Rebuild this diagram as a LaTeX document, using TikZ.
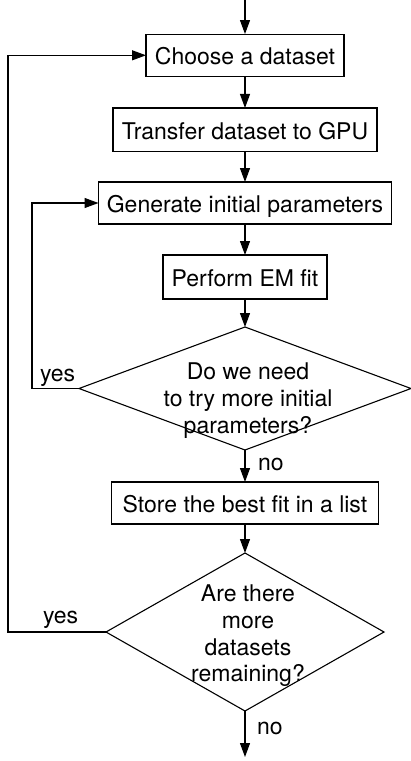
\documentclass[tikz,border=0pt]{standalone}
\usepackage{fontspec}
\setmainfont{TeX Gyre Heros}
\usetikzlibrary{arrows.meta,shapes.geometric}
\begin{document}
\begin{tikzpicture}[x=1pt,y=-1pt,
  every node/.style={font=\fontsize{23pt}{26.7pt}\selectfont, inner sep=0pt, outer sep=0pt},
  proc/.style={draw, line width=1.1pt, rectangle, text height=19pt, text depth=0pt, minimum height=42.5pt},
  decis/.style={draw, line width=1.1pt, diamond, inner sep=0pt},
  conn/.style={line width=1.1pt, -{Triangle[length=14pt,width=10pt]}},
  plain/.style={line width=1.1pt},
  lbl/.style={anchor=base west}
]
\useasboundingbox (0,0) rectangle (411,761);

\coordinate (start) at (245,0);
\coordinate (finish) at (245,757);
\coordinate (L1) at (32,0);
\coordinate (L2) at (8,0);

\node[proc, minimum width=198pt] (b1) at (245,55.3) {Choose a dataset};
\node[proc, minimum width=264pt, minimum height=43.5pt] (b2) at (245,129.7) {Transfer dataset to GPU};
\node[proc, minimum width=293pt, minimum height=42pt] (b3) at (245,203) {Generate initial parameters};
\node[proc, minimum width=164pt, minimum height=44pt] (b4) at (245,277) {Perform EM fit};
\node[decis, minimum width=332pt, minimum height=123pt] (d1) at (245,388.5) {};
\node[anchor=base, align=center] (t1) at (248,433.3) {Do we need\\to try more initial\\parameters?};
\node[proc, minimum width=267pt, minimum height=42pt] (b5) at (245,503) {Store the best fit in a list};
\node[decis, minimum width=278pt, minimum height=158pt] (d2) at (245,632) {};
\node[anchor=base, align=center] (t2) at (248,681.7) {Are there\\more\\datasets\\remaining?};

\draw[conn] (start) -- (b1.north);
\draw[conn] (b1.south) -- (b2.north);
\draw[conn] (b2.south) -- (b3.north);
\draw[conn] (b3.south) -- (b4.north);
\draw[conn] (b4.south) -- (d1.north);
\draw[conn] (d1.south) -- (b5.north);
\draw[conn] (b5.south) -- (d2.north);
\draw[conn] (d2.south) -- (finish);

\draw[conn] (d1.west) -- (d1.west -| L1) |- (b3.west);
\draw[conn] (d2.west) -- (d2.west -| L2) |- (b1.west);

\node[lbl] (y1) at (40,381) {yes};
\node[lbl] (n1) at (258,470.7) {no};
\node[lbl] (y2) at (43,623) {yes};
\node[lbl] (n2) at (257,734.3) {no};
\end{tikzpicture}
\end{document}
